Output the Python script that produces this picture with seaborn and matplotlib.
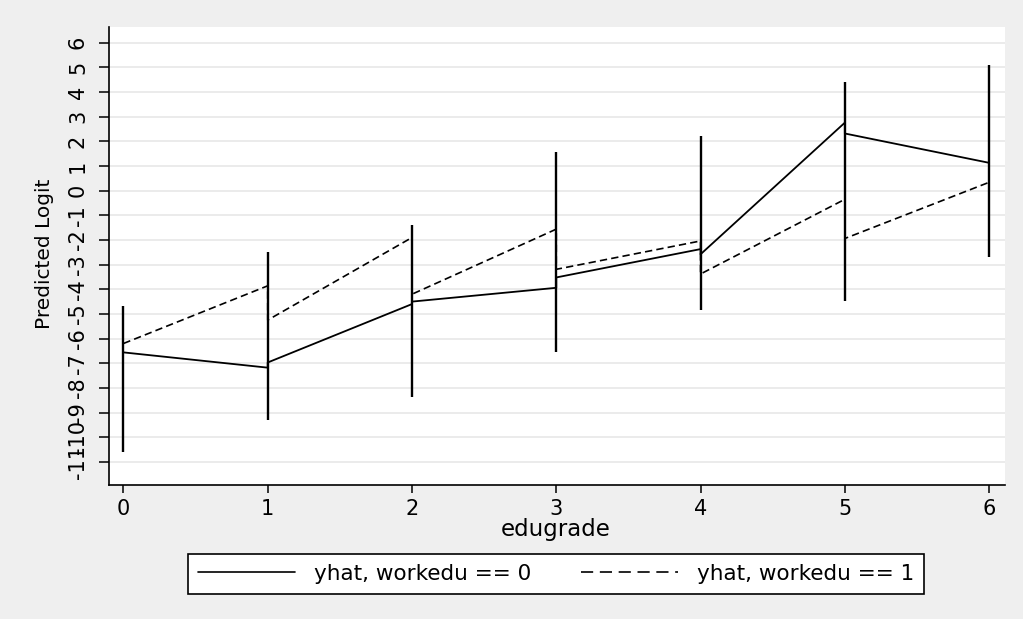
import numpy as np
import pandas as pd
import matplotlib
matplotlib.use("Agg")
import matplotlib.pyplot as plt
from matplotlib.lines import Line2D
import seaborn as sns

# ---- data ----
edugrade = [0, 1, 2, 3, 4, 5, 6]
ci_low = [-10.62, -9.31, -8.36, -6.54, -4.84, -4.48, -2.68]
ci_high = [-4.67, -2.48, -1.40, 1.58, 2.23, 4.42, 5.10]
# predicted logit where each line arrives at / leaves each grade
yhat0_in = [np.nan, -7.18, -4.60, -3.94, -2.37, 2.76, 1.13]
yhat0_out = [-6.56, -6.97, -4.50, -3.52, -2.58, 2.32, np.nan]
yhat1_in = [np.nan, -3.86, -1.90, -1.56, -2.04, -0.35, 0.34]
yhat1_out = [-6.20, -5.25, -4.20, -3.19, -3.38, -1.94, np.nan]
y_ticks = list(range(-11, 7))
labels = ["yhat, workedu == 0", "yhat, workedu == 1"]


def path(xs, yin, yout):
    px, py = [], []
    for x, a, b in zip(xs, yin, yout):
        if not np.isnan(a):
            px.append(x); py.append(a)
        if not np.isnan(b):
            px.append(x); py.append(b)
    return pd.DataFrame({"edugrade": px, "yhat": py})


df0 = path(edugrade, yhat0_in, yhat0_out)
df1 = path(edugrade, yhat1_in, yhat1_out)

sns.set_theme(style="white")
plt.rcParams["font.family"] = ["DejaVu Sans"]
plt.rcParams["axes.unicode_minus"] = False
plt.rcParams["text.color"] = "black"
plt.rcParams["axes.labelcolor"] = "black"
plt.rcParams["xtick.color"] = "black"
plt.rcParams["ytick.color"] = "black"

fig = plt.figure(figsize=(10.23, 6.19), dpi=100, facecolor="#efefef")
ax = fig.add_axes([109 / 1023, 1 - 485 / 619, 896 / 1023, 458 / 619])
ax.set_facecolor("white")

sns.lineplot(data=df0, x="edugrade", y="yhat", sort=False, estimator=None,
             color="black", lw=1.3, ax=ax, zorder=2)
sns.lineplot(data=df1, x="edugrade", y="yhat", sort=False, estimator=None,
             color="black", lw=1.2, ax=ax, zorder=2, linestyle=(0, (4.4, 2.5)))
ax.vlines(edugrade, ci_low, ci_high, color="black", lw=1.7, zorder=3)

ax.set_xlim(-0.10, 6.11)
ax.set_ylim(-11.94, 6.64)
ax.set_yticks(y_ticks)
ax.set_xticks(edugrade)
ax.grid(axis="y", color="#e8e8e8", lw=1.2)
ax.grid(axis="x", visible=False)
ax.set_axisbelow(True)

for s in ["top", "right"]:
    ax.spines[s].set_visible(False)
for s in ["left", "bottom"]:
    ax.spines[s].set_color("black")
    ax.spines[s].set_linewidth(1.2)

ax.tick_params(axis="y", which="major", left=True, length=7.2, width=1.1,
               color="black", labelcolor="black", labelsize=15,
               labelrotation=90, pad=8)
ax.tick_params(axis="x", which="major", bottom=True, length=5.8, width=1.1,
               color="black", labelcolor="black", labelsize=15, pad=4.3)
for t in ax.get_yticklabels():
    t.set_verticalalignment("center")

ax.set_xlabel("edugrade", fontsize=16.5, color="black")
ax.set_ylabel("Predicted Logit", fontsize=14.5, color="black")
ax.xaxis.set_label_coords(0.498, -0.072)
ax.yaxis.set_label_coords(-0.061, 0.505)

handles = [Line2D([], [], color="black", lw=1.2),
           Line2D([], [], color="black", lw=1.2, linestyle=(0, (7.3, 4.0)))]
leg = fig.legend(handles, labels, loc="center", bbox_to_anchor=(0.5435, 0.0727),
                 ncol=2, fontsize=15.5, frameon=True, fancybox=False,
                 edgecolor="black", facecolor="white", framealpha=1,
                 handlelength=4.5, handletextpad=0.9, columnspacing=2.3,
                 borderpad=0.45, labelcolor="black")
leg.get_frame().set_linewidth(1.2)

fig.savefig("out.png", dpi=100, facecolor=fig.get_facecolor())
